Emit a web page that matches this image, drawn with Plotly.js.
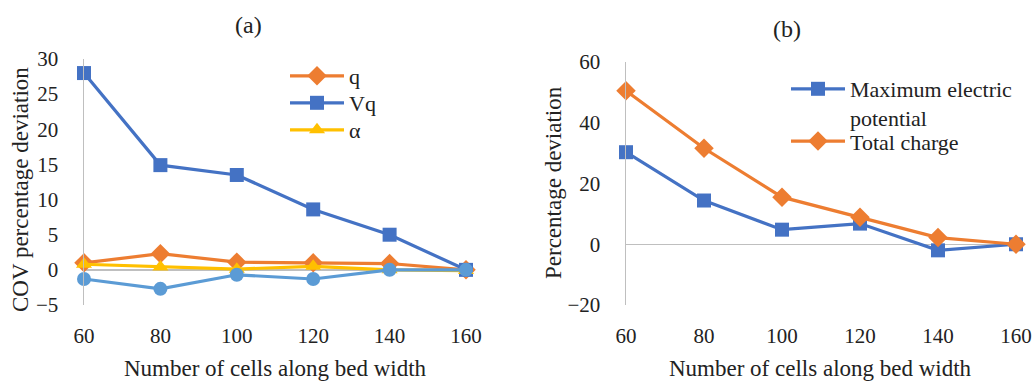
<!DOCTYPE html>
<html>
<head>
<meta charset="utf-8">
<script src="https://cdn.plot.ly/plotly-3.0.1.min.js"></script>
<style>html,body{margin:0;padding:0;background:#fff;}#chart{width:1035px;height:381px;}</style>
</head>
<body>
<div id="chart"></div>
<script>
// ---- data ----
const cells = [60, 80, 100, 120, 140, 160];
const qDev = [1.0, 2.3, 1.1, 1.0, 0.9, 0];
const vqDev = [28.0, 14.9, 13.5, 8.6, 5.0, 0];
const alphaDev = [0.8, 0.4, 0.1, 0.5, 0.0, -0.1];
const extraDev = [-1.3, -2.7, -0.7, -1.3, 0.0, 0.0];
const maxPotDev = [30.3, 14.4, 4.8, 6.8, -2.0, 0];
const totChargeDev = [50.5, 31.6, 15.5, 8.9, 2.2, 0];
const xTicks = [60, 80, 100, 120, 140, 160];
const yTicksA = [-5, 0, 5, 10, 15, 20, 25, 30];
const yTicksB = [-20, 0, 20, 40, 60];

const ORANGE = '#ED7D31', BLUE = '#4472C4', YELLOW = '#FFC000', LBLUE = '#5B9BD5';
const FONT = "'Liberation Serif', 'Times New Roman', serif";
const TXT = '#222';

function tr(x, y, name, color, symbol, size, xa, ya, leg, show) {
  return {x: x, y: y, name: name, type: 'scatter', mode: 'lines+markers',
    line: {color: color, width: 3.2}, marker: {color: color, symbol: symbol, size: size},
    xaxis: xa, yaxis: ya, legend: leg, showlegend: show, cliponaxis: false};
}

const data = [
  tr(cells, qDev, 'q', ORANGE, 'diamond', 15, 'x', 'y', 'legend', true),
  tr(cells, vqDev, 'Vq', BLUE, 'square', 14, 'x', 'y', 'legend', true),
  tr(cells, alphaDev, 'α', YELLOW, 'triangle-up', 14, 'x', 'y', 'legend', true),
  tr(cells, extraDev, 'series 4', LBLUE, 'circle', 14, 'x', 'y', 'legend', false),
  tr(cells, maxPotDev, 'Maximum electric<br>potential', BLUE, 'square', 14, 'x2', 'y2', 'legend2', true),
  tr(cells, totChargeDev, 'Total charge', ORANGE, 'diamond', 15, 'x2', 'y2', 'legend2', true)
];

const axX = (dom, anchor) => ({domain: dom, anchor: anchor, range: [60, 160], tickvals: xTicks,
  showgrid: false, zeroline: false, showline: false, ticks: '', ticklabelstandoff: 16,
  tickfont: {family: FONT, size: 21, color: TXT}, fixedrange: true});
const axY = (dom, anchor, rng, tv) => ({domain: dom, anchor: anchor, range: rng, tickvals: tv,
  showgrid: false, zeroline: true, zerolinecolor: '#BFBFBF', zerolinewidth: 1.5,
  showline: true, linecolor: '#BFBFBF', linewidth: 1.5, ticks: '', ticklabelstandoff: 20,
  tickfont: {family: FONT, size: 21, color: TXT}, fixedrange: true});

const ann = (text, x, y, size, angle) => ({text: text, x: x/1035, y: 1-y/381, xref: 'paper', yref: 'paper',
  xanchor: 'center', yanchor: 'middle', showarrow: false, textangle: angle || 0,
  font: {family: FONT, size: size, color: TXT}});

const IW = 54;
const layout = {
  width: 1035, height: 381, margin: {l: 0, r: 0, t: 0, b: 0},
  paper_bgcolor: '#fff', plot_bgcolor: 'rgba(0,0,0,0)',
  font: {family: FONT, color: TXT},
  xaxis: axX([84/1035, 466/1035], 'y'),
  yaxis: axY([1-305/381, 1-59/381], 'x', [-5, 30], yTicksA),
  xaxis2: axX([626/1035, 1016/1035], 'y2'),
  yaxis2: axY([1-305/381, 1-62/381], 'x2', [-20, 60], yTicksB),
  legend: {x: 285/1035, y: 1-55/381, xanchor: 'left', yanchor: 'top', bgcolor: 'rgba(0,0,0,0)',
    font: {family: FONT, size: 22, color: TXT}, itemwidth: IW, tracegroupgap: 0},
  legend2: {x: 786/1035, y: 1-68/381, xanchor: 'left', yanchor: 'top', bgcolor: 'rgba(0,0,0,0)',
    font: {family: FONT, size: 22, color: TXT}, itemwidth: IW, valign: 'top'},
  annotations: [
    ann('(a)', 248, 25, 24),
    ann('(b)', 787, 29, 24),
    ann('Number of cells along bed width', 275, 368, 23),
    ann('Number of cells along bed width', 820, 368, 23),
    ann('COV percentage deviation', 20, 190, 23, -90),
    ann('Percentage deviation', 553, 183, 23, -90)
  ]
};

function parseT(el) {
  const m = /translate\(\s*([-\d.e]+)[ ,]+([-\d.e]+)/.exec(el.getAttribute('transform') || '');
  return m ? [parseFloat(m[1]), parseFloat(m[2])] : [0, 0];
}
function respaceItems(items, offsets) {
  if (!items.length) return;
  const base = parseT(items[0]);
  items.forEach((el, i) => {
    const p = parseT(el);
    if (i < offsets.length) el.setAttribute('transform', 'translate(' + p[0] + ',' + (base[1] + offsets[i]) + ')');
  });
}

Plotly.newPlot('chart', data, layout, {displayModeBar: false, staticPlot: true}).then(function (gd) {
  // lengthen legend line samples to match the reference style
  gd.querySelectorAll('.legendlines path').forEach(function (p) {
    p.setAttribute('d', 'M5,0h' + IW);
  });
  gd.querySelectorAll('.legendsymbols .scatterpts').forEach(function (p) {
    p.setAttribute('transform', 'translate(' + (5 + IW / 2) + ',0)');
  });
  // tighter row spacing, like the reference legends
  const groups = new Set();
  gd.querySelectorAll('g.traces').forEach(function (t) {
    const sb = t.closest('.scrollbox') || t.parentNode;
    if (sb) groups.add(sb);
  });
  groups.forEach(function (sb) {
    const items = Array.from(sb.querySelectorAll('g.traces'));
    if (items.length === 3) respaceItems(items, [0, 27, 54]);
    else if (items.length === 2) respaceItems(items, [0, 38]);
  });
});
</script>
</body>
</html>
